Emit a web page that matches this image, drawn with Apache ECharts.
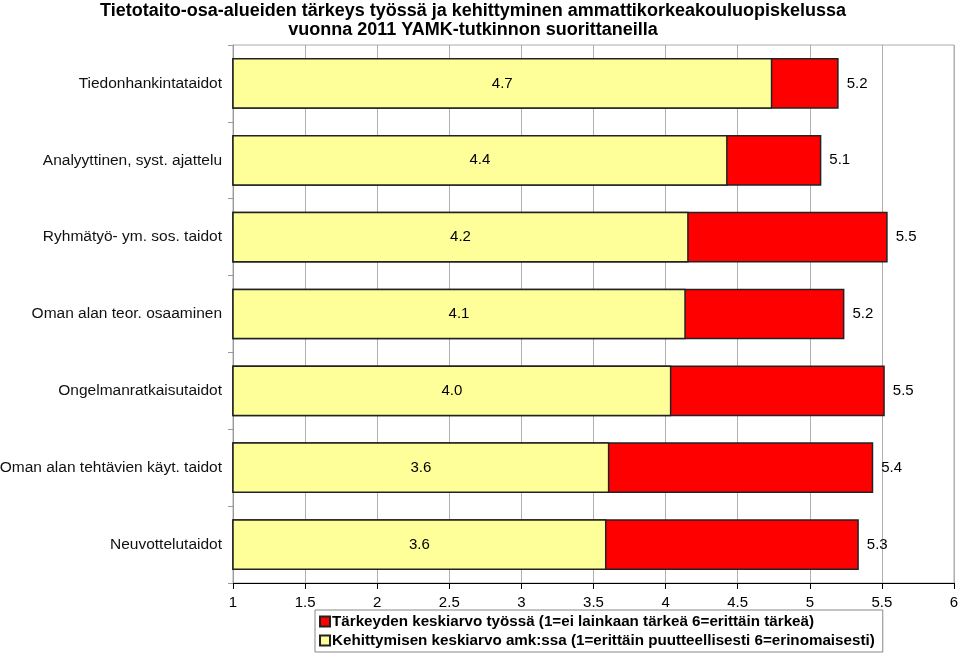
<!DOCTYPE html>
<html>
<head>
<meta charset="utf-8">
<script src="https://cdn.jsdelivr.net/npm/echarts@6/dist/echarts.min.js"></script>
<style>html,body{margin:0;padding:0;background:#fff;}#c{width:960px;height:655px;}</style>
</head>
<body>
<div id="c"></div>
<script>
var categories = ['Tiedonhankintataidot', 'Analyyttinen, syst. ajattelu', 'Ryhmätyö- ym. sos. taidot', 'Oman alan teor. osaaminen', 'Ongelmanratkaisutaidot', 'Oman alan tehtävien käyt. taidot', 'Neuvottelutaidot'];
var importance = [5.20, 5.08, 5.54, 5.24, 5.52, 5.44, 5.34];
var development = [4.74, 4.43, 4.16, 4.14, 4.04, 3.61, 3.59];
var xTicks = [1, 1.5, 2, 2.5, 3, 3.5, 4, 4.5, 5, 5.5, 6];
var seriesNames = ['Tärkeyden keskiarvo työssä (1=ei lainkaan tärkeä 6=erittäin tärkeä)', 'Kehittymisen keskiarvo amk:ssa (1=erittäin puutteellisesti 6=erinomaisesti)'];
var titleText = 'Tietotaito-osa-alueiden tärkeys työssä ja kehittyminen ammattikorkeakouluopiskelussa\nvuonna 2011 YAMK-tutkinnon suorittaneilla';

var font = 'Liberation Sans, Arial, sans-serif';
var chart = echarts.init(document.getElementById('c'));
chart.setOption({
  animation: false,
  backgroundColor: '#fff',
  title: {
    text: titleText, left: 468, textAlign: 'center', top: -3,
    textStyle: { fontFamily: font, fontSize: 18, fontWeight: 'bold', color: '#000', lineHeight: 19 }
  },
  legend: {
    orient: 'vertical', left: 315, top: 610, itemGap: 4,
    itemWidth: 10, itemHeight: 10, icon: 'rect',
    borderColor: '#888', borderWidth: 1, padding: [4, 8, 4, 4],
    textStyle: { fontFamily: font, fontSize: 15.2, fontWeight: 'bold', color: '#000', padding: [0, 0, 0, -3] },
    data: seriesNames
  },
  grid: { left: 233, right: 6, top: 45, bottom: 72, show: true, borderColor: '#aaa', borderWidth: 1, outerBoundsMode: 'none', containLabel: false },
  xAxis: {
    type: 'value', min: 1, max: 6, interval: 0.5,
    axisLine: { show: true, lineStyle: { color: '#000', width: 1 } },
    axisTick: { show: true, length: 6, lineStyle: { color: '#000' } },
    axisLabel: { fontFamily: font, fontSize: 15, color: '#000', margin: 12,
      formatter: function (v) { return xTicks.indexOf(v) >= 0 ? String(v) : ''; } },
    splitLine: { show: true, lineStyle: { color: '#b0b0b0', width: 1 } }
  },
  yAxis: {
    type: 'category', data: categories, inverse: true,
    axisLine: { show: true, lineStyle: { color: '#999' } },
    axisTick: { show: true, length: 5, lineStyle: { color: '#999' } },
    axisLabel: { fontFamily: font, fontSize: 15.5, color: '#111', margin: 11 }
  },
  series: [
    {
      name: seriesNames[0], type: 'bar', data: importance, barWidth: '66%', barGap: '-100%',
      itemStyle: { color: '#FF0000', borderColor: '#222', borderWidth: 1.5 },
      label: { show: true, position: 'right', distance: 8, fontFamily: font, fontSize: 15, color: '#000',
        formatter: function (p) { return p.value.toFixed(1); } },
      z: 2
    },
    {
      name: seriesNames[1], type: 'bar', data: development, barWidth: '66%', barGap: '-100%',
      itemStyle: { color: '#FFFF99', borderColor: '#222', borderWidth: 1.5 },
      label: { show: true, position: 'inside', fontFamily: font, fontSize: 15, color: '#000',
        formatter: function (p) { return p.value.toFixed(1); } },
      z: 3
    }
  ]
});
</script>
</body>
</html>
